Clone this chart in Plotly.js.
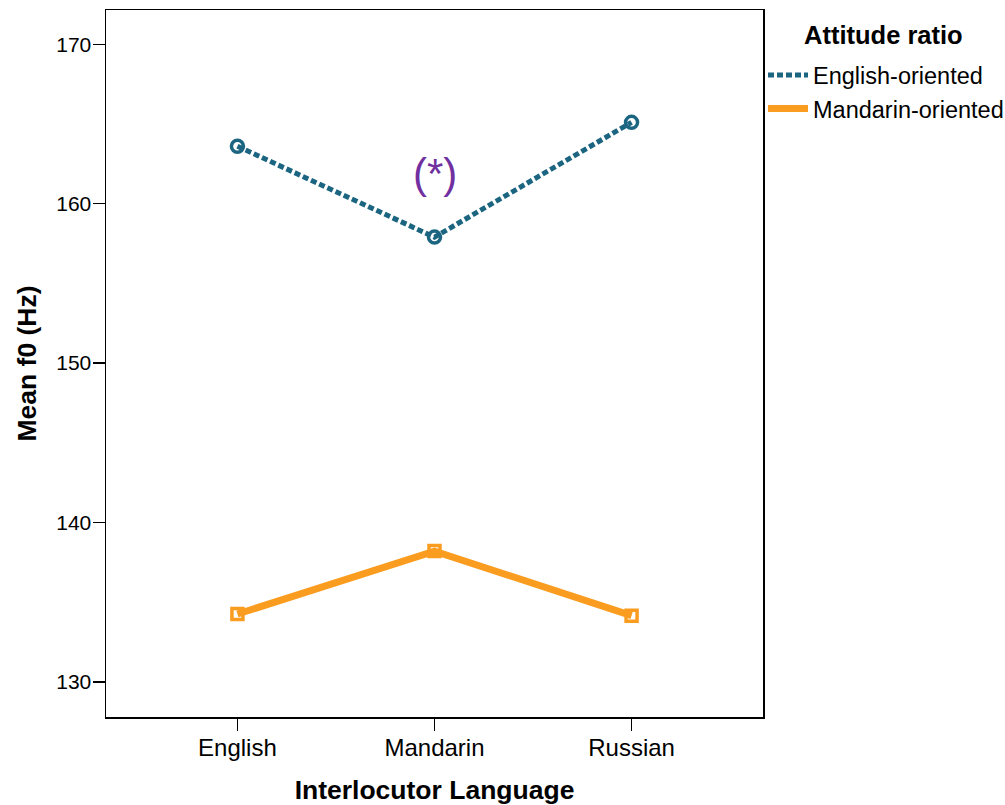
<!DOCTYPE html>
<html>
<head>
<meta charset="utf-8">
<script src="https://cdn.plot.ly/plotly-3.0.1.min.js"></script>
<style>
  html, body { margin: 0; padding: 0; background: #fff; }
  #chart { width: 1005px; height: 805px; }
</style>
</head>
<body>
<div id="chart"></div>
<script>
// Interlocutor languages on the x axis
const languages = ['English', 'Mandarin', 'Russian'];

// Mean f0 (Hz) per attitude-ratio group
const englishOriented = [163.6, 157.9, 165.1];
const mandarinOriented = [134.25, 138.2, 134.15];

// Significance marker above the Mandarin condition
const sigLabel = '(*)';
const sigLanguage = 'Mandarin';
const sigY = 161.9;

const legendHeading = 'Attitude ratio';

const font = 'Liberation Sans, Arial, sans-serif';
const teal = '#1b6581';
const orange = '#fa9c1f';

// Lines carry the legend entries; markers are drawn as separate traces
const traces = [
  {
    x: languages, y: englishOriented,
    name: 'English-oriented', legendgroup: 'eng',
    type: 'scatter', mode: 'lines',
    line: { color: teal, width: 5, dash: '6px,3px' }
  },
  {
    x: languages, y: englishOriented,
    name: 'English-oriented', legendgroup: 'eng', showlegend: false,
    type: 'scatter', mode: 'markers',
    marker: { symbol: 'circle-open', size: 12, color: teal, line: { width: 3.5, color: teal } }
  },
  {
    x: languages, y: mandarinOriented,
    name: 'Mandarin-oriented', legendgroup: 'man',
    type: 'scatter', mode: 'lines',
    line: { color: orange, width: 7 }
  },
  {
    x: languages, y: mandarinOriented,
    name: 'Mandarin-oriented', legendgroup: 'man', showlegend: false,
    type: 'scatter', mode: 'markers',
    marker: { symbol: 'square-open', size: 11, color: orange, line: { width: 3.5, color: orange } }
  }
];

const layout = {
  width: 1005, height: 805,
  margin: { l: 105.5, r: 242, t: 9.5, b: 88, autoexpand: false },
  paper_bgcolor: '#fff', plot_bgcolor: '#fff',
  font: { family: font, color: '#000', size: 18 },
  showlegend: true,
  xaxis: {
    type: 'category',
    range: [-0.667, 2.667],
    showgrid: false, zeroline: false,
    showline: true, linecolor: '#000', linewidth: 1.5, mirror: true,
    ticks: 'outside', ticklen: 12, tickwidth: 1.5, tickcolor: '#000',
    ticklabelstandoff: -3,
    tickfont: { family: font, size: 24, color: '#000' },
    title: { text: '<b>Interlocutor Language</b>', font: { family: font, size: 26.5, color: '#000' }, standoff: 23 }
  },
  yaxis: {
    range: [127.79, 172.15],
    tickvals: [130, 140, 150, 160, 170],
    showgrid: false, zeroline: false,
    showline: true, linecolor: '#000', linewidth: 1.5, mirror: true,
    ticks: 'outside', ticklen: 12, tickwidth: 1.5, tickcolor: '#000',
    ticklabelstandoff: -3,
    tickfont: { family: font, size: 21, color: '#000' },
    title: { text: '<b>Mean f0 (Hz)</b>', font: { family: font, size: 26.5, color: '#000' }, standoff: 12 }
  },
  legend: {
    x: 1.0, xanchor: 'left', y: 0.939, yanchor: 'top',
    bgcolor: 'rgba(0,0,0,0)',
    font: { family: font, size: 23.5, color: '#000' },
    tracegroupgap: 0,
    itemwidth: 40
  },
  annotations: [
    {
      x: sigLanguage, y: sigY, xref: 'x', yref: 'y',
      text: sigLabel, showarrow: false,
      font: { family: font, size: 42, color: '#7030a0' }
    },
    {
      // legend heading
      x: 1.06, y: 1.0, xref: 'paper', yref: 'paper',
      xanchor: 'left', yanchor: 'top', yshift: -9,
      text: '<b>' + legendHeading + '</b>', showarrow: false,
      font: { family: font, size: 25.5, color: '#000' }
    }
  ]
};

Plotly.newPlot('chart', traces, layout, { displayModeBar: false, staticPlot: true });
</script>
</body>
</html>
